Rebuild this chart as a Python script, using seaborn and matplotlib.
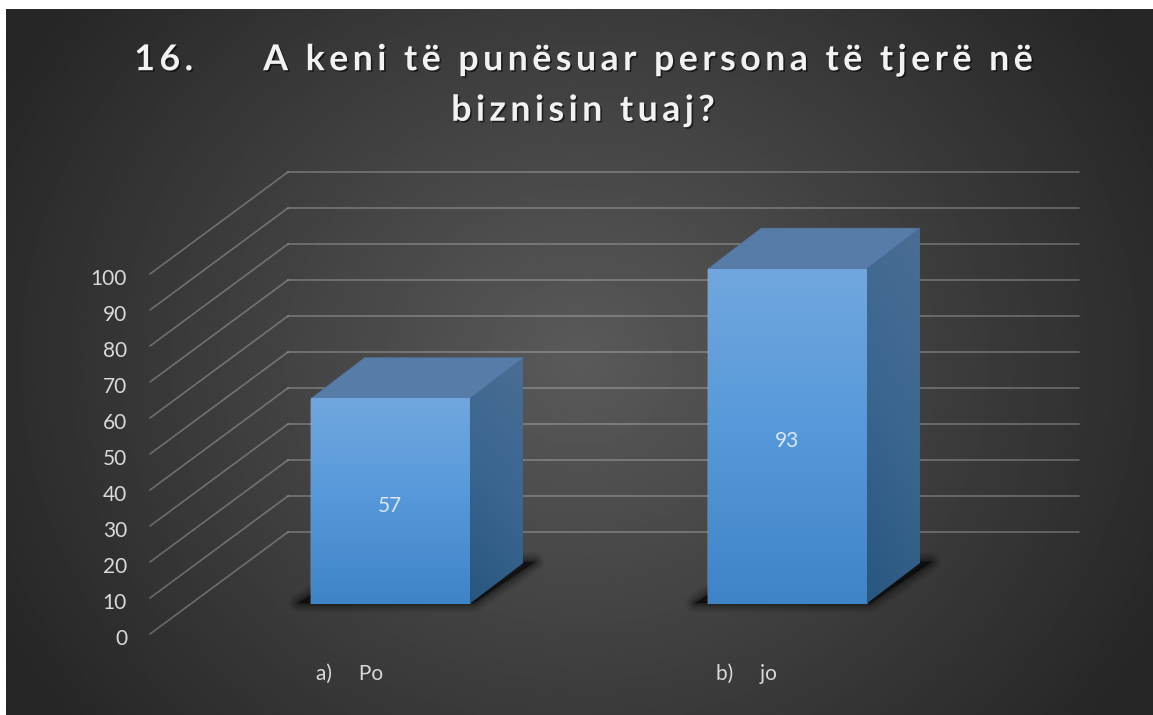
"""3D style column chart on a dark slide background."""

import matplotlib
matplotlib.use("Agg")
import matplotlib.pyplot as plt
import matplotlib.patheffects as pe
import numpy as np
import pandas as pd
import seaborn as sns
from matplotlib.colors import LinearSegmentedColormap
from matplotlib.patches import Polygon
from matplotlib.transforms import ScaledTranslation

CATEGORIES = ["a)     Po", "b)     jo"]
VALUES = [57, 93]
Y_TICKS = [0, 10, 20, 30, 40, 50, 60, 70, 80, 90, 100]
TITLE = "16.     A keni të punësuar persona të tjerë në\nbiznisin tuaj?"

W, H = 1153, 715
DPI = 100
TEXT_COLOR = "#d9d9d9"
GRID_ALPHA = 0.27
FRONT_CMAP = LinearSegmentedColormap.from_list("front", ["#71a7de", "#5598da", "#3f84c7"])
SIDE_CMAP = LinearSegmentedColormap.from_list("side", ["#4b6d93", "#3a6690", "#29567f"])
HAIR = "\u200a"


def px_axes(fig, left, top, right, bottom, **kwargs):
    return fig.add_axes([left / W, 1 - bottom / H, (right - left) / W, (bottom - top) / H], **kwargs)


def px_offset(fig, dx, dy):
    return ScaledTranslation(dx / DPI, dy / DPI, fig.dpi_scale_trans)


def spaced(text, n=2):
    return "\n".join((HAIR * n).join(line) for line in text.split("\n"))


sns.set_theme(style="dark", rc={"axes.facecolor": "none", "figure.facecolor": "white"})
plt.rcParams["font.family"] = ["Lato", "DejaVu Sans"]

fig = plt.figure(figsize=(W / DPI, H / DPI), dpi=DPI)

# background
bg = px_axes(fig, 6, 9, W, H, zorder=0)
xx, yy = np.meshgrid(np.linspace(-1, 1, 400), np.linspace(-1, 1, 300))
rr = np.sqrt(xx**2 + (yy / 1.45) ** 2)
shade = 0x5a + (0x26 - 0x5a) * np.clip(rr / 1.15, 0, 1)
bg.imshow(shade, cmap="gray", vmin=0, vmax=255, aspect="auto", interpolation="bilinear")
bg.axis("off")

# back wall + floor lines
wall = px_axes(fig, 288, 172, 1079, 532, zorder=1)
wall.set_ylim(0, 100)
wall.set_xlim(0, 1)
wall.set_xticks([])
wall.set_yticks(Y_TICKS)
wall.yaxis.grid(True, color="white", alpha=GRID_ALPHA, linewidth=1.2)
for line in wall.get_ygridlines():
    line.set_clip_on(False)
sns.despine(ax=wall, left=True, bottom=True)
wall.tick_params(axis="y", length=0, labelsize=15, labelcolor=TEXT_COLOR, pad=161 * 72 / DPI)
for label in wall.get_yticklabels():
    label.set_transform(label.get_transform() + px_offset(fig, 0, -105))
for v in Y_TICKS:
    wall.annotate("", xy=(0, v), xycoords=wall.get_yaxis_transform(), xytext=(-138, -102),
                  textcoords="offset pixels",
                  arrowprops=dict(arrowstyle="-", color="white", alpha=GRID_ALPHA, lw=1.2, shrinkA=0, shrinkB=0))

# bars, front plane of the columns
ax = px_axes(fig, 191.75, 172, 985.25, 604, zorder=2)
df = pd.DataFrame({"category": CATEGORIES, "value": VALUES})
sns.barplot(data=df, x="category", y="value", color="#4f92d6", saturation=1, width=0.4, ax=ax)
ax.set_xlim(-0.5, 1.5)
ax.set_ylim(0, 120)
ax.set_yticks([])
ax.set_xlabel("")
ax.set_ylabel("")
sns.despine(ax=ax, left=True, bottom=True)
ax.tick_params(axis="x", length=0, labelsize=15, labelcolor=TEXT_COLOR, pad=43)
for label in ax.get_xticklabels():
    label.set_transform(label.get_transform() + px_offset(fig, -40.5, 0))

dx = 53.7 / 396.5
dy = 41 / 3.6
ux = 1 / 396.5
uy = 1 / 3.6
for bar in ax.patches:
    x0, x1 = bar.get_x(), bar.get_x() + bar.get_width()
    top = bar.get_height()
    bar.set_zorder(2)

    # soft shadow on the floor
    shadow = [(x0 - 12 * ux, 1 * uy), (x1 + 4 * ux, 1 * uy),
              (x1 + dx + 11 * ux, dy + 1 * uy), (x0 + dx, dy + 1 * uy)]
    for lw, a in zip([14, 11, 8, 5, 3, 1], [0.06, 0.08, 0.10, 0.12, 0.14, 0.16]):
        ax.add_patch(Polygon(shadow, closed=True, facecolor=(0, 0, 0, a), edgecolor=(0, 0, 0, a),
                             lw=lw, joinstyle="round", zorder=1, clip_on=False))

    ax.add_patch(Polygon([(x0, top), (x1, top), (x1 + dx, top + dy), (x0 + dx, top + dy)], closed=True,
                         facecolor="#577ca7", edgecolor="#4f76a3", lw=0.5, zorder=3, clip_on=False))

    side_poly = Polygon([(x1, 0), (x1 + dx, dy), (x1 + dx, top + dy), (x1, top)], closed=True,
                        facecolor="none", edgecolor="none", transform=ax.transData)
    ax.add_patch(side_poly)
    u, w = np.meshgrid(np.linspace(0, 1, 60), np.linspace(0, 1, 200))
    im = ax.imshow(0.8 * w + 0.2 * (1 - u), extent=(x1, x1 + dx, 0, top + dy), cmap=SIDE_CMAP, vmin=0, vmax=1,
                   aspect="auto", zorder=3, interpolation="bilinear")
    im.set_clip_path(side_poly)

    ax.imshow(np.linspace(0, 1, 200).reshape(-1, 1), extent=(x0, x1, 0, top), cmap=FRONT_CMAP, vmin=0, vmax=1,
              aspect="auto", zorder=4, interpolation="bilinear")

ax.set_xlim(-0.5, 1.5)
ax.set_ylim(0, 120)

for label in ax.bar_label(ax.containers[0], labels=[str(v) for v in VALUES], label_type="center",
                          fontsize=15, color="#dbe6f2"):
    label.set_zorder(6)
    label.xyann = (0, -3)

# title
fig.text(583 / W, 1 - 85 / H, spaced(TITLE), ha="center", va="center", fontsize=25.7, fontweight="bold",
         color="#f2f2f2", linespacing=1.65,
         path_effects=[pe.withSimplePatchShadow(offset=(1.2, -1.2), shadow_rgbFace="black", alpha=0.55)])

fig.savefig("out.png", dpi=DPI, facecolor="white")
